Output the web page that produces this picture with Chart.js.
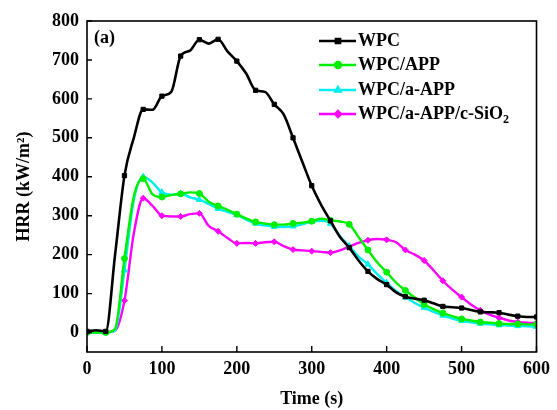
<!DOCTYPE html>
<html>
<head>
<meta charset="utf-8">
<script src="https://cdn.jsdelivr.net/npm/chart.js@4/dist/chart.umd.min.js"></script>
<style>
html,body{margin:0;padding:0;background:#fff;}
#wrap{width:557px;height:410px;}
</style>
</head>
<body>
<div id="wrap"><canvas id="c" width="557" height="410"></canvas></div>
<script>
// ---- data ----
const times = [0,12.5,25,37.5,50,62.5,75,87.5,100,112.5,125,137.5,150,162.5,175,187.5,200,212.5,225,237.5,250,262.5,275,287.5,300,312.5,325,337.5,350,362.5,375,387.5,400,412.5,425,437.5,450,462.5,475,487.5,500,512.5,525,537.5,550,562.5,575,587.5,600];
const wpc = [3,6,3,200,403,500,573,572,607,618,710,724,752,742,753,722,697,665,622,618,586,560,500,438,377,328,287,246,218,185,157,137,123,103,92,87,83,75,67,65,63,58,53,52,51,46,42,40,40];
const wpcApp = [0,0,0,10,190,350,395,355,348,353,356,360,357,336,325,315,304,293,284,280,277,277,280,282,286,292,288,285,278,245,212,180,155,128,108,90,72,60,50,42,35,31,27,25,23,22,22,21,21];
const wpcAApp = [0,0,0,5,160,340,400,385,360,354,357,347,341,330,318,310,302,290,280,275,272,271,273,278,285,287,280,248,222,195,175,150,128,107,91,76,64,53,44,36,30,26,23,21,19,18,17,16,15];
const wpcAAppSiO2 = [0,1,1,5,82,255,345,325,300,298,298,304,306,274,260,243,229,230,229,232,233,222,213,211,209,207,205,211,221,230,237,240,238,232,212,200,185,160,133,110,91,72,57,46,38,31,27,25,24];
const xTicks = [0,100,200,300,400,500,600];
const yTicks = [0,100,200,300,400,500,600,700,800];
const seriesNames = ['WPC','WPC/APP','WPC/a-APP','WPC/a-APP/c-SiO'];
const seriesColors = ['#000000','#00ee00','#00eeee','#ff00ff'];
const seriesMarkers = ['rect','circle','triangle','rectRot'];

const FONT = '"Liberation Serif","Times New Roman",serif';
const pts = arr => arr.map((v,i)=>({x:times[i], y:v}));
const markerRadius = ctx => (ctx.dataIndex % 2 === 0 ? 3 : 0);

const values = [wpc, wpcApp, wpcAApp, wpcAAppSiO2];
const datasets = values.map((arr,i)=>({
  label: seriesNames[i],
  data: pts(arr),
  borderColor: seriesColors[i],
  backgroundColor: seriesColors[i],
  borderWidth: i===0 ? 2.6 : 2.4,
  pointStyle: seriesMarkers[i],
  pointRadius: ctx => (ctx.dataIndex % 2 === 0 ? (i===2?3.5:3) : 0),
  pointBorderWidth: 1,
  cubicInterpolationMode: 'monotone',
  fill: false
}));

const decor = {
  id:'decor',
  afterDatasetsDraw(chart){
    const ctx = chart.ctx, a = chart.chartArea;
    const xs = chart.scales.x, ys = chart.scales.y;
    ctx.save();
    ctx.strokeStyle = '#000';
    ctx.lineWidth = 1.6;
    ctx.strokeRect(a.left, a.top, a.right-a.left, a.bottom-a.top);
    // inner tick marks
    ctx.lineWidth = 1.4;
    ctx.beginPath();
    xTicks.forEach(v=>{
      const px = xs.getPixelForValue(v);
      ctx.moveTo(px, a.bottom); ctx.lineTo(px, a.bottom-6);
    });
    yTicks.forEach(v=>{
      const py = ys.getPixelForValue(v);
      ctx.moveTo(a.left, py); ctx.lineTo(a.left+5, py);
    });
    ctx.stroke();
    // panel label
    ctx.fillStyle = '#000';
    ctx.font = 'bold 18px ' + FONT;
    ctx.textBaseline = 'middle';
    ctx.textAlign = 'left';
    ctx.fillText('(a)', a.left+7, 38);
    // legend
    const rowY = [41,65,90,114];
    seriesNames.forEach((name,i)=>{
      const y = rowY[i];
      ctx.strokeStyle = seriesColors[i];
      ctx.lineWidth = 2.4;
      ctx.beginPath(); ctx.moveTo(319,y); ctx.lineTo(356,y); ctx.stroke();
      ctx.fillStyle = seriesColors[i];
      Chart.helpers.drawPoint(ctx,{pointStyle:seriesMarkers[i], radius:3, rotation:0, borderWidth:1}, 338, y);
      ctx.fillStyle = '#000';
      ctx.font = 'bold 18px ' + FONT;
      ctx.fillText(name, 358, y);
      if (i===3){
        const w = ctx.measureText(name).width;
        ctx.font = 'bold 12px ' + FONT;
        ctx.fillText('2', 358+w, y+6);
      }
    });
    ctx.restore();
  }
};

new Chart(document.getElementById('c'), {
  type:'line',
  data:{datasets},
  options:{
    responsive:false,
    animation:false,
    devicePixelRatio:1,
    layout:{padding:{left:0,top:21,right:14,bottom:0}},
    plugins:{legend:{display:false}, tooltip:{enabled:false}},
    scales:{
      x:{
        type:'linear', min:0, max:600,
        afterBuildTicks: s => { s.ticks = xTicks.map(v=>({value:v})); },
        afterFit: s => { s.height = 58; },
        grid:{display:false, drawTicks:false},
        border:{display:false},
        ticks:{color:'#000', font:{family:FONT, size:18, weight:'bold'}, padding:7, maxRotation:0, autoSkip:false},
        title:{display:true, text:'Time (s)', color:'#000', font:{family:FONT, size:18, weight:'bold'}, padding:{top:0,bottom:0}}
      },
      y:{
        type:'linear', min:-50, max:800,
        afterBuildTicks: s => { s.ticks = yTicks.map(v=>({value:v})); },
        afterFit: s => { s.width = 87; },
        grid:{display:false, drawTicks:false},
        border:{display:false},
        ticks:{color:'#000', font:{family:FONT, size:18, weight:'bold'}, padding:8, autoSkip:false},
        title:{display:true, text:'HRR (kW/m²)', color:'#000', font:{family:FONT, size:18, weight:'bold'}, padding:{top:14,bottom:0}}
      }
    }
  },
  plugins:[decor]
});
</script>
</body>
</html>
